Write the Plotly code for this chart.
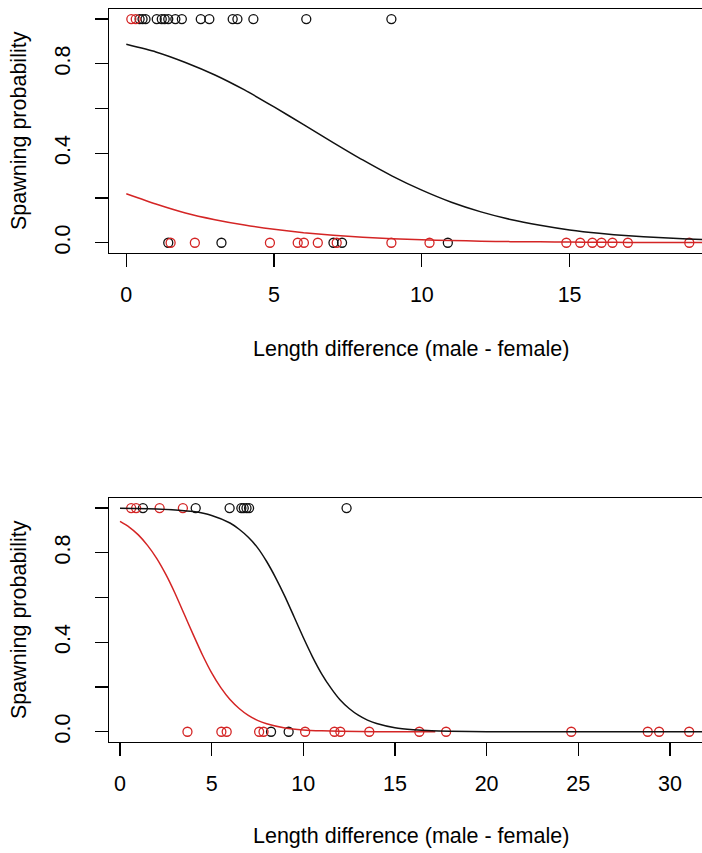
import plotly.graph_objects as go

# ---------------- data ----------------
# Top panel: observed spawning outcome (0/1) vs length difference
top_black_x = [0.45, 0.55, 0.65, 1.03, 1.20, 1.30, 1.42, 1.66, 1.88, 2.52, 2.81, 3.60, 3.76, 4.30, 6.09, 8.97,
               1.42, 3.22, 7.01, 7.30, 10.88]
top_black_y = [1, 1, 1, 1, 1, 1, 1, 1, 1, 1, 1, 1, 1, 1, 1, 1,
               0, 0, 0, 0, 0]
top_red_x = [0.17, 0.32,
             1.50, 2.32, 4.86, 5.80, 6.01, 6.48, 7.12, 8.97, 10.26, 14.89, 15.36, 15.77, 16.08, 16.45, 16.97, 19.05]
top_red_y = [1, 1,
             0, 0, 0, 0, 0, 0, 0, 0, 0, 0, 0, 0, 0, 0, 0, 0]

# Top panel fitted curves
top_curve_x = [0, 1, 2, 3, 4, 5, 6, 7, 8, 9, 10, 11, 12, 13, 14, 15, 16, 17, 18, 19, 20]
top_black_curve = [0.887, 0.853, 0.806, 0.750, 0.683, 0.607, 0.528, 0.448, 0.370, 0.298, 0.235, 0.181,
                   0.138, 0.104, 0.078, 0.057, 0.042, 0.031, 0.023, 0.017, 0.012]
top_red_curve = [0.219, 0.173, 0.133, 0.103, 0.079, 0.060, 0.045, 0.034, 0.025, 0.018, 0.013, 0.010,
                 0.007, 0.005, 0.004, 0.003, 0.002, 0.0015, 0.001, 0.0008, 0.0006]

# Bottom panel observations
bot_black_x = [1.25, 4.13, 5.98, 6.62, 6.75, 6.90, 7.04, 12.36,
               8.24, 9.20]
bot_black_y = [1, 1, 1, 1, 1, 1, 1, 1,
               0, 0]
bot_red_x = [0.61, 0.88, 2.16, 3.43,
             3.68, 5.53, 5.82, 7.59, 7.83, 10.10, 11.70, 12.02, 13.60, 16.33, 17.79, 24.62, 28.79, 29.41, 31.05]
bot_red_y = [1, 1, 1, 1,
             0, 0, 0, 0, 0, 0, 0, 0, 0, 0, 0, 0, 0, 0, 0]

# Bottom panel fitted curves
bot_black_curve_x = [0, 2, 4, 5, 6, 6.5, 7, 7.5, 8, 8.5, 9, 9.5, 10, 10.5, 11, 11.5, 12, 12.5, 13,
                     13.5, 14, 15, 16, 17, 18, 20, 24, 28, 32]
bot_black_curve = [0.999, 0.996, 0.984, 0.967, 0.933, 0.905, 0.869, 0.823, 0.761, 0.687, 0.604, 0.513,
                   0.421, 0.335, 0.259, 0.196, 0.143, 0.104, 0.074, 0.052, 0.037, 0.018, 0.009,
                   0.004, 0.002, 0.0005, 0.0, 0.0, 0.0]
bot_red_curve_x = [0, 0.5, 1, 1.5, 2, 2.5, 3, 3.5, 4, 4.5, 5, 5.5, 6, 6.5, 7, 7.5, 8, 9, 10, 11, 12,
                   14, 16, 17.2]
bot_red_curve = [0.940, 0.915, 0.880, 0.833, 0.775, 0.703, 0.619, 0.526, 0.433, 0.343, 0.263, 0.197,
                 0.144, 0.104, 0.073, 0.051, 0.036, 0.017, 0.008, 0.004, 0.002, 0.0004, 0.0001, 0.0]

top_xticks = [0, 5, 10, 15]
bot_xticks = [0, 5, 10, 15, 20, 25, 30]
y_tickvals = [0.0, 0.2, 0.4, 0.6, 0.8, 1.0]
y_ticktext = ["0.0", "", "0.4", "", "0.8", ""]

x_title = "Length difference (male - female)"
y_title = "Spawning probability"

# ---------------- styling ----------------
W, H = 702, 853
BLACK = "#111111"
RED = "#d42525"
FONT = "Liberation Sans, Arial, sans-serif"
FS = 21.5

fig = go.Figure()

def pts(x, y, color, xa, ya):
    fig.add_trace(go.Scatter(x=x, y=y, mode="markers", xaxis=xa, yaxis=ya,
                             marker=dict(symbol="circle-open", size=9, color=color,
                                         line=dict(width=1.3, color=color)),
                             showlegend=False, hoverinfo="skip"))

def line(x, y, color, xa, ya):
    fig.add_trace(go.Scatter(x=x, y=y, mode="lines", xaxis=xa, yaxis=ya,
                             line=dict(color=color, width=1.5, shape="spline", smoothing=0.6),
                             showlegend=False, hoverinfo="skip"))

# top panel
pts(top_black_x, top_black_y, BLACK, "x", "y")
pts(top_red_x, top_red_y, RED, "x", "y")
line(top_curve_x, top_black_curve, BLACK, "x", "y")
line(top_curve_x, top_red_curve, RED, "x", "y")

# bottom panel
pts(bot_black_x, bot_black_y, BLACK, "x2", "y2")
pts(bot_red_x, bot_red_y, RED, "x2", "y2")
line(bot_red_curve_x, bot_red_curve, RED, "x2", "y2")
line(bot_black_curve_x, bot_black_curve, BLACK, "x2", "y2")

xdom = [109.3 / W, 1.0]
top_dom = [1 - 252.7 / H, 1 - 9.3 / H]
bot_dom = [1 - 741.7 / H, 1 - 498.3 / H]

common_x = dict(showgrid=False, zeroline=False, showline=True, mirror=True, linecolor="black",
                linewidth=1.3, ticks="outside", ticklen=13, tickwidth=1.3, tickcolor="black",
                tickfont=dict(family=FONT, size=FS, color="black"), automargin=False,
                ticklabelstandoff=9)
common_y = dict(showgrid=False, zeroline=False, showline=True, mirror=False, linecolor="black",
                linewidth=1.3, ticks="outside", ticklen=13, tickwidth=1.3, tickcolor="black",
                tickfont=dict(family=FONT, size=FS, color="black"), automargin=False,
                tickvals=y_tickvals, ticktext=y_ticktext, tickangle=-90, ticklabelstandoff=16,
                range=[-0.0445, 1.0435])

fig.update_layout(
    width=W, height=H,
    margin=dict(l=0, r=0, t=0, b=0),
    paper_bgcolor="white", plot_bgcolor="white",
    xaxis=dict(domain=xdom, anchor="y", range=[-0.575, 19.48], tickvals=top_xticks, **common_x),
    yaxis=dict(domain=top_dom, anchor="x", **common_y),
    xaxis2=dict(domain=xdom, anchor="y2", range=[-0.584, 31.75], tickvals=bot_xticks, **common_x),
    yaxis2=dict(domain=bot_dom, anchor="x2", **common_y),
    annotations=[
        dict(text=x_title, xref="paper", yref="paper", x=411 / W, y=1 - 349 / H,
             xanchor="center", yanchor="middle", showarrow=False,
             font=dict(family=FONT, size=FS, color="black")),
        dict(text=x_title, xref="paper", yref="paper", x=411 / W, y=1 - 836 / H,
             xanchor="center", yanchor="middle", showarrow=False,
             font=dict(family=FONT, size=FS, color="black")),
        dict(text=y_title, xref="paper", yref="paper", x=19 / W, y=1 - 131 / H,
             xanchor="center", yanchor="middle", showarrow=False, textangle=-90,
             font=dict(family=FONT, size=FS, color="black")),
        dict(text=y_title, xref="paper", yref="paper", x=19 / W, y=1 - 620 / H,
             xanchor="center", yanchor="middle", showarrow=False, textangle=-90,
             font=dict(family=FONT, size=FS, color="black")),
    ],
)

fig.write_html("out.html", config={"displayModeBar": False, "staticPlot": True},
               post_script="document.body.style.margin='0';document.body.style.padding='0';")
